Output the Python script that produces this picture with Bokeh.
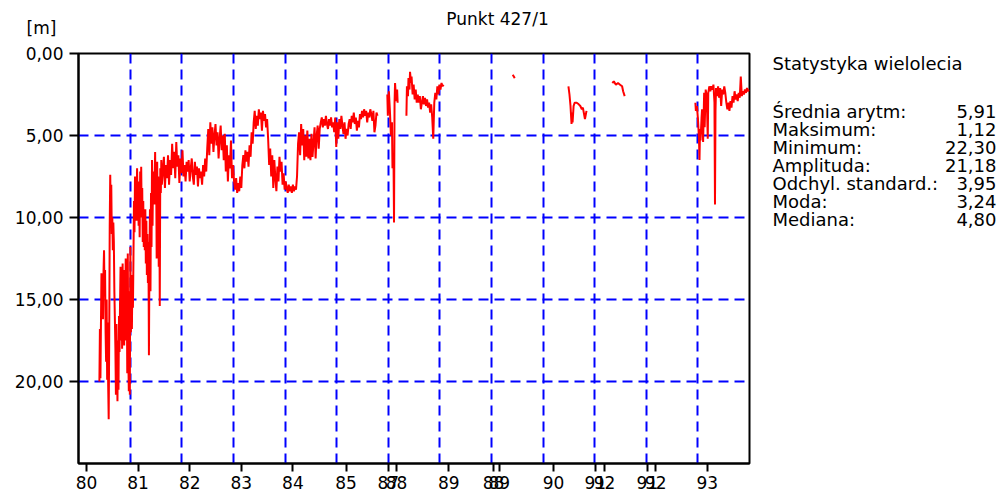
import math
from bokeh.plotting import figure
from bokeh.layouts import column, row
from bokeh.models import Range1d, FixedTicker
from bokeh.core.properties import value
from bokeh.embed import file_html
from bokeh.resources import INLINE

FONT = "DejaVu Sans"

chart_title = "Punkt 427/1"
unit_label = "[m]"

y_ticks = [0, 5, 10, 15, 20]
y_tick_labels = ["0,00", "5,00", "10,00", "15,00", "20,00"]

x_tick_pos = [1980.0, 1981.0, 1982.0, 1983.0, 1984.0, 1985.03, 1985.85, 1986.01,
              1987.02, 1987.89, 1988.0, 1989.05, 1989.86, 1990.04, 1990.87, 1991.03, 1992.03]
x_tick_labels = ["80", "81", "82", "83", "84", "85", "87", "88",
                 "89", "88", "89", "90", "91", "92", "91", "92", "93"]
x_grid_pos = [1980.85, 1981.85, 1982.85, 1983.85, 1984.85, 1985.85,
              1986.85, 1987.85, 1988.85, 1989.85, 1990.85, 1991.85]

stats_title = "Statystyka wielolecia"
stat_names = ["Średnia arytm:", "Maksimum:", "Minimum:", "Amplituda:",
              "Odchyl. standard.:", "Moda:", "Mediana:"]
stat_values = ["5,91", "1,12", "22,30", "21,18", "3,95", "3,24", "4,80"]

# depth to water table [m] - segment 1 (1980-1985)
t1 = [1980.25, 1980.26, 1980.27, 1980.28, 1980.29, 1980.30, 1980.31, 1980.32, 1980.33, 1980.34,
      1980.35, 1980.36, 1980.37, 1980.38, 1980.39, 1980.40, 1980.41, 1980.42, 1980.43, 1980.44,
      1980.45, 1980.46, 1980.47, 1980.48, 1980.49, 1980.50, 1980.51, 1980.52, 1980.53, 1980.54,
      1980.55, 1980.56, 1980.57, 1980.58, 1980.59, 1980.60, 1980.61, 1980.62, 1980.63, 1980.64,
      1980.65, 1980.66, 1980.67, 1980.68, 1980.69, 1980.70, 1980.71, 1980.72, 1980.73, 1980.74,
      1980.75, 1980.76, 1980.77, 1980.78, 1980.79, 1980.80, 1980.81, 1980.82, 1980.83, 1980.84,
      1980.85, 1980.86, 1980.87, 1980.88, 1980.89, 1980.90, 1980.91, 1980.92, 1980.93, 1980.94,
      1980.95, 1980.96, 1980.97, 1980.98, 1980.99, 1981.00, 1981.01, 1981.02, 1981.03, 1981.04,
      1981.05, 1981.06, 1981.07, 1981.08, 1981.09, 1981.10, 1981.11, 1981.12, 1981.13, 1981.14,
      1981.15, 1981.16, 1981.17, 1981.18, 1981.19, 1981.20, 1981.21, 1981.22, 1981.23, 1981.24,
      1981.25, 1981.26, 1981.27, 1981.28, 1981.29, 1981.30, 1981.32, 1981.33, 1981.34, 1981.35,
      1981.36, 1981.37, 1981.38, 1981.39, 1981.40, 1981.41, 1981.42, 1981.43, 1981.44, 1981.45,
      1981.46, 1981.48, 1981.50, 1981.52, 1981.54, 1981.56, 1981.58, 1981.60, 1981.62, 1981.64,
      1981.66, 1981.68, 1981.70, 1981.72, 1981.74, 1981.76, 1981.78, 1981.80, 1981.82, 1981.84,
      1981.86, 1981.88, 1981.90, 1981.92, 1981.94, 1981.96, 1981.98, 1982.00, 1982.02, 1982.04,
      1982.06, 1982.08, 1982.10, 1982.12, 1982.14, 1982.16, 1982.18, 1982.20, 1982.22, 1982.24,
      1982.26, 1982.28, 1982.30, 1982.32, 1982.34, 1982.36, 1982.38, 1982.40, 1982.42, 1982.44,
      1982.46, 1982.48, 1982.50, 1982.52, 1982.54, 1982.56, 1982.58, 1982.60, 1982.62, 1982.64,
      1982.66, 1982.68, 1982.70, 1982.72, 1982.74, 1982.76, 1982.78, 1982.80, 1982.82, 1982.84,
      1982.86, 1982.88, 1982.90, 1982.92, 1982.94, 1982.96, 1982.98, 1983.00, 1983.02, 1983.04,
      1983.06, 1983.08, 1983.10, 1983.12, 1983.14, 1983.16, 1983.18, 1983.20, 1983.22, 1983.24,
      1983.26, 1983.28, 1983.30, 1983.32, 1983.34, 1983.36, 1983.38, 1983.40, 1983.42, 1983.44,
      1983.46, 1983.48, 1983.50, 1983.52, 1983.54, 1983.56, 1983.58, 1983.60, 1983.62, 1983.64,
      1983.66, 1983.68, 1983.70, 1983.72, 1983.74, 1983.76, 1983.78, 1983.80, 1983.82, 1983.84,
      1983.86, 1983.88, 1983.90, 1983.92, 1983.94, 1983.96, 1983.98, 1984.00, 1984.02, 1984.04,
      1984.06, 1984.08, 1984.10, 1984.12, 1984.14, 1984.16, 1984.18, 1984.20, 1984.22, 1984.24,
      1984.26, 1984.28, 1984.30, 1984.32, 1984.34, 1984.36, 1984.38, 1984.40, 1984.42, 1984.44,
      1984.46, 1984.48, 1984.50, 1984.52, 1984.54, 1984.56, 1984.58, 1984.60, 1984.62, 1984.64,
      1984.66, 1984.68, 1984.70, 1984.72, 1984.74, 1984.76, 1984.78, 1984.80, 1984.82, 1984.84,
      1984.86, 1984.88, 1984.90, 1984.92, 1984.94, 1984.96, 1984.98, 1985.00, 1985.02, 1985.04,
      1985.06, 1985.08, 1985.10, 1985.12, 1985.14, 1985.16, 1985.18, 1985.20, 1985.22, 1985.24,
      1985.26, 1985.28, 1985.30, 1985.32, 1985.34, 1985.36, 1985.38, 1985.40, 1985.42, 1985.44,
      1985.46, 1985.48, 1985.50, 1985.52, 1985.54, 1985.56, 1985.58, 1985.60, 1985.62, 1985.64]
d1 = [20.0, 16.8, 19.8, 16.5, 13.4, 15.9, 13.6, 16.2, 13.3, 12.0,
      14.8, 13.2, 17.0, 18.8, 15.0, 19.9, 16.4, 20.2, 22.3, 17.5,
      10.5, 7.4, 9.8, 8.0, 11.0, 10.0, 12.0, 10.3, 11.5, 14.5,
      16.2, 18.0, 20.8, 16.5, 19.0, 21.2, 17.5, 20.5, 16.0, 18.2,
      15.2, 13.0, 17.5, 14.0, 18.0, 12.8, 16.5, 14.5, 17.8, 13.2,
      16.8, 12.5, 17.5, 14.0, 19.5, 12.2, 18.5, 20.6, 14.5, 20.8,
      11.8, 17.0, 14.2, 16.8, 13.5, 15.5, 12.5, 9.0, 10.9, 7.5,
      9.5, 8.0, 10.2, 7.0, 9.0, 7.8, 10.5, 8.5, 11.2, 7.2,
      9.8, 6.9, 10.0, 8.2, 11.5, 9.0, 11.8, 10.0, 12.0, 9.5,
      12.8, 10.2, 13.5, 11.0, 14.0, 11.5, 18.4, 12.5, 9.5, 14.5,
      8.5, 11.8, 6.5, 10.5, 7.2, 9.2, 8.0, 6.0, 9.2, 7.0,
      12.5, 6.6, 10.8, 7.5, 13.0, 8.0, 15.4, 7.0, 8.5, 6.5,
      8.0, 7.2, 6.3, 8.2, 6.8, 7.6, 6.2, 8.0, 6.5, 7.4,
      5.5, 7.0, 6.0, 7.6, 5.4, 6.9, 6.2, 7.9, 6.4, 7.3,
      5.9, 7.5, 6.8, 7.8, 6.6, 7.2, 6.5, 7.8, 7.0, 6.4,
      7.5, 8.0, 6.6, 7.4, 6.9, 8.1, 7.0, 7.6, 7.2, 8.0,
      6.8, 7.5, 6.4, 7.2, 5.8, 4.6, 6.2, 4.2, 5.5, 4.5,
      6.0, 5.0, 4.3, 5.6, 4.8, 6.4, 5.2, 4.4, 5.9, 5.0,
      6.5, 4.9, 7.2, 5.6, 7.8, 6.2, 7.0, 5.3, 7.6, 6.8,
      7.8, 8.3, 7.6, 8.5, 7.9, 8.4, 7.5, 8.2, 6.8, 6.2,
      7.0, 5.9, 6.6, 6.0, 6.9, 5.6, 6.3, 4.8, 5.5, 4.2,
      3.5, 4.6, 3.8, 4.4, 3.4, 4.0, 3.6, 4.7, 3.5, 4.1,
      3.7, 4.5, 4.0, 5.2, 6.8, 5.8, 7.5, 6.2, 8.2, 6.5,
      7.6, 8.4, 6.9, 7.8, 6.3, 7.2, 6.6, 8.0, 7.3, 8.3,
      7.8, 8.2, 8.5, 8.0, 8.4, 8.1, 8.5, 8.0, 8.4, 8.1,
      8.3, 7.5, 5.5, 4.8, 6.2, 4.3, 5.6, 4.6, 6.5, 5.0,
      6.3, 4.7, 6.4, 5.2, 6.5, 4.9, 6.3, 5.4, 4.5, 6.4,
      5.0, 4.4, 5.8, 4.6, 4.2, 3.9, 4.5, 4.0, 4.4, 3.8,
      4.3, 4.6, 4.0, 4.4, 3.9, 4.5, 4.2, 4.8, 3.9, 5.7,
      4.2, 5.2, 4.0, 4.6, 3.8, 4.4, 4.9, 4.2, 5.2, 4.6,
      5.0, 4.3, 4.0, 4.6, 3.8, 4.2, 3.6, 4.3, 3.9, 4.7,
      4.1, 4.5, 3.7, 4.0, 3.5, 3.9, 3.4, 3.8, 3.5, 4.2,
      3.6, 3.9, 3.4, 3.7, 4.1, 3.5, 4.8, 4.4, 3.6, 3.8]

# segment 2 (end of 1985)
t2 = [1985.83, 1985.84, 1985.86, 1985.88, 1985.90, 1985.92, 1985.93, 1985.95, 1985.96,
      1985.97, 1985.98, 1986.00, 1986.02, 1986.03]
d2 = [2.5, 3.8, 2.3, 3.5, 5.0, 4.2, 7.0, 6.5, 10.3, 3.0, 1.8, 2.9, 2.2, 3.0]

# segment 3 (1986)
t3 = [1986.20, 1986.21, 1986.23, 1986.24, 1986.26, 1986.27, 1986.29, 1986.30, 1986.32, 1986.34,
      1986.36, 1986.38, 1986.40, 1986.42, 1986.44, 1986.46, 1986.48, 1986.50, 1986.52, 1986.54,
      1986.56, 1986.58, 1986.60, 1986.62, 1986.64, 1986.66, 1986.68, 1986.70, 1986.72, 1986.74,
      1986.76, 1986.78, 1986.80, 1986.82, 1986.84, 1986.86, 1986.88, 1986.90, 1986.92]
d3 = [3.8, 2.0, 2.6, 1.5, 2.2, 1.12, 1.8, 1.4, 2.5, 1.9,
      2.8, 2.2, 3.0, 2.5, 3.0, 2.6, 3.4, 3.0, 2.6, 3.1,
      2.7, 3.2, 2.8, 3.3, 3.0, 3.6, 3.1, 3.9, 5.2, 3.0,
      2.4, 2.8, 2.0, 2.5, 1.9, 2.2, 1.8, 2.0, 1.9]

# segment 4 (single short record)
t4 = [1988.26, 1988.30]
d4 = [1.3, 1.5]

# segment 5
t5 = [1989.34, 1989.36, 1989.38, 1989.40, 1989.41, 1989.42, 1989.44, 1989.46, 1989.50,
      1989.54, 1989.57, 1989.60, 1989.62, 1989.66, 1989.69]
d5 = [2.0, 2.5, 3.2, 4.3, 3.6, 4.2, 3.2, 3.0, 3.0, 3.1, 3.2, 3.4, 3.3, 4.0, 3.5]

# segment 6
t6 = [1990.19, 1990.22, 1990.26, 1990.30, 1990.34, 1990.38, 1990.40, 1990.43]
d6 = [1.8, 1.7, 1.9, 1.8, 1.9, 2.0, 2.3, 2.6]

# segment 7 (1991-1992)
t7 = [1991.80, 1991.81, 1991.83, 1991.85, 1991.87, 1991.88, 1991.89, 1991.90, 1991.92, 1991.93,
      1991.95, 1991.97, 1991.98, 1992.00, 1992.02, 1992.04, 1992.05, 1992.07, 1992.09, 1992.11,
      1992.13, 1992.15, 1992.17, 1992.18, 1992.19, 1992.20, 1992.22, 1992.24, 1992.26, 1992.28,
      1992.30, 1992.32, 1992.34, 1992.36, 1992.38, 1992.40, 1992.42, 1992.44, 1992.46, 1992.48,
      1992.50, 1992.52, 1992.54, 1992.56, 1992.58, 1992.60, 1992.62, 1992.64, 1992.66, 1992.68,
      1992.70, 1992.72, 1992.74, 1992.76, 1992.78, 1992.80, 1992.82, 1992.845]
d7 = [3.0, 3.5, 3.2, 4.0, 5.2, 6.5, 4.6, 5.3, 3.9, 3.4,
      5.4, 2.4, 4.5, 2.2, 2.6, 5.2, 2.4, 2.0, 2.3, 2.0,
      2.2, 1.9, 3.0, 9.2, 3.5, 2.1, 2.6, 2.0, 2.7, 2.1,
      3.2, 2.2, 2.5, 2.0, 2.4, 3.0, 3.4, 3.0, 3.5, 2.9,
      3.3, 2.6, 3.0, 2.3, 2.8, 2.5, 2.9, 2.4, 2.7, 1.4,
      2.6, 2.3, 2.5, 2.2, 2.4, 2.1, 2.3, 2.2]

segments = [(t1, d1), (t2, d2), (t3, d3), (t4, d4), (t5, d5), (t6, d6), (t7, d7)]
xs, ys = [], []
for t, d in segments:
    xs += list(t) + [math.nan]
    ys += list(d) + [math.nan]


def style_blank(f):
    f.axis.visible = False
    f.grid.visible = False
    f.outline_line_color = None
    f.background_fill_color = "white"
    f.border_fill_color = "white"
    return f


# header strip (title and unit); coordinates in page pixels
HEAD_H = 40
head = style_blank(figure(width=1002, height=HEAD_H, min_border=0,
                          x_range=Range1d(0, 1002), y_range=Range1d(HEAD_H, 0),
                          output_backend="svg", toolbar_location=None))
head.text(x=[497], y=[18], text=[chart_title], text_font=value(FONT),
          text_font_size="17px", text_color="black", text_align="center",
          text_baseline="middle")
head.text(x=[41], y=[27], text=[unit_label], text_font=value(FONT),
          text_font_size="17px", text_color="black", text_align="center",
          text_baseline="middle")

# main chart
FRAME_TOP = 13
FRAME_H = 410
p = figure(frame_width=671, frame_height=FRAME_H,
           min_border_left=78, min_border_right=4, min_border_top=FRAME_TOP, min_border_bottom=0,
           x_range=Range1d(1979.845, 1992.849), y_range=Range1d(25, 0),
           output_backend="svg", toolbar_location=None)
p.background_fill_color = "white"
p.border_fill_color = "white"
p.outline_line_color = "black"
p.outline_line_width = 2
p.outline_line_alpha = 1.0

p.xgrid.ticker = FixedTicker(ticks=x_grid_pos)
p.ygrid.ticker = FixedTicker(ticks=[5, 10, 15, 20])
for g in (p.xgrid, p.ygrid):
    g.grid_line_color = "#0000ff"
    g.grid_line_dash = "10 6"
    g.grid_line_width = 2
    g.grid_line_alpha = 1.0

p.yaxis.ticker = FixedTicker(ticks=y_ticks)
p.yaxis.major_label_overrides = {k: v for k, v in zip(y_ticks, y_tick_labels)}
p.xaxis.ticker = FixedTicker(ticks=x_tick_pos)
p.xaxis.major_label_overrides = {k: v for k, v in zip(x_tick_pos, x_tick_labels)}
for ax in (p.xaxis, p.yaxis):
    ax.axis_line_color = "black"
    ax.axis_line_width = 2
    ax.major_tick_line_color = "black"
    ax.major_tick_line_width = 2
    ax.major_tick_in = 0
    ax.minor_tick_in = 0
    ax.minor_tick_out = 0
    ax.major_label_text_font = FONT
    ax.major_label_text_font_size = "17px"
    ax.major_label_text_color = "black"
p.yaxis.major_tick_out = 9
p.yaxis.major_label_standoff = 6
p.xaxis.major_tick_out = 8
p.xaxis.major_label_standoff = 4

p.line(xs, ys, line_color="#ff0000", line_width=2)

# statistics panel; its frame is aligned with the chart frame, coordinates in page pixels
MAIN_W = 78 + 671 + 4
top_px = HEAD_H + FRAME_TOP
stats = style_blank(figure(frame_width=1002 - MAIN_W, frame_height=FRAME_H,
                           min_border_left=0, min_border_right=0,
                           min_border_top=FRAME_TOP, min_border_bottom=0,
                           x_range=Range1d(MAIN_W, 1002),
                           y_range=Range1d(top_px + FRAME_H, top_px),
                           output_backend="svg", toolbar_location=None))
stats.text(x=[772], y=[63], text=[stats_title], text_font=value(FONT),
           text_font_size="18px", text_color="black", text_align="left",
           text_baseline="middle")
row_y = [111 + 18 * i for i in range(len(stat_names))]
stats.text(x=[772] * len(stat_names), y=row_y, text=stat_names, text_font=value(FONT),
           text_font_size="18px", text_color="black", text_align="left",
           text_baseline="middle")
stats.text(x=[996] * len(stat_values), y=row_y, text=stat_values, text_font=value(FONT),
           text_font_size="18px", text_color="black", text_align="right",
           text_baseline="middle")

layout = column(head, row(p, stats))
open("out.html", "w").write(file_html(layout, INLINE))
